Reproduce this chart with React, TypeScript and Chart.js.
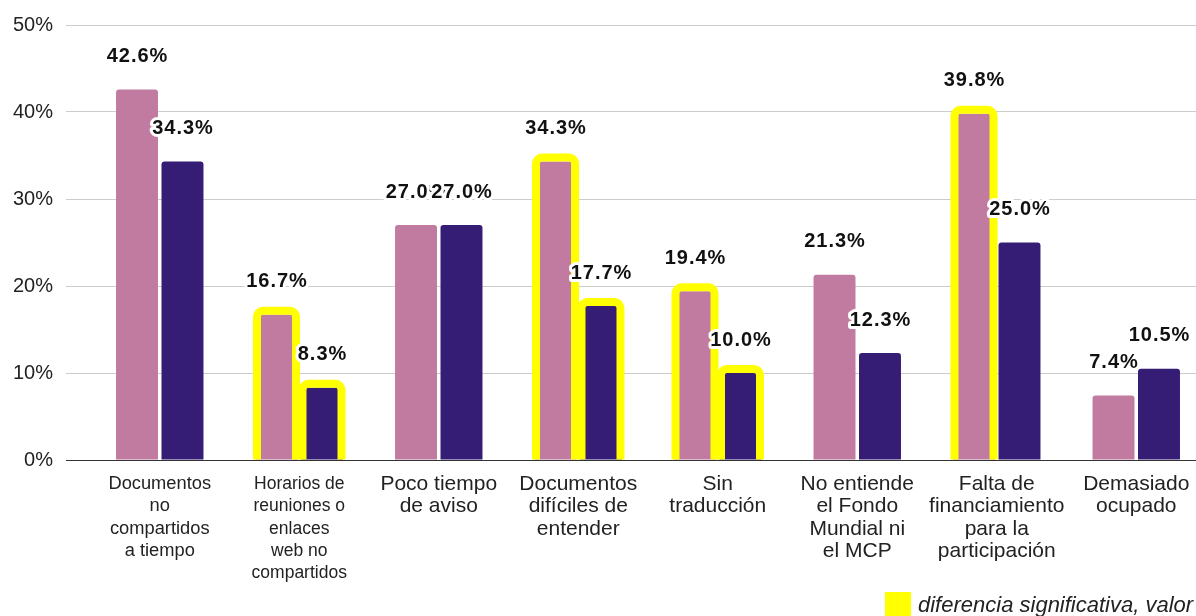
import { useEffect, useRef } from 'react';
import { Chart, registerables } from 'chart.js';

Chart.register(...registerables);

const categories: string[][] = [
  ['Documentos', 'no', 'compartidos', 'a tiempo'],
  ['Horarios de', 'reuniones o', 'enlaces', 'web no', 'compartidos'],
  ['Poco tiempo', 'de aviso'],
  ['Documentos', 'difíciles de', 'entender'],
  ['Sin', 'traducción'],
  ['No entiende', 'el Fondo', 'Mundial ni', 'el MCP'],
  ['Falta de', 'financiamiento', 'para la', 'participación'],
  ['Demasiado', 'ocupado'],
];
const seriesNames = ['Serie 1', 'Serie 2'];
const seriesA = [42.6, 16.7, 27.0, 34.3, 19.4, 21.3, 39.8, 7.4];
const seriesB = [34.3, 8.3, 27.0, 17.7, 10.0, 12.3, 25.0, 10.5];
const highlightA = [false, true, false, true, true, false, true, false];
const highlightB = [false, true, false, true, true, false, false, false];
const yTicks = [0, 10, 20, 30, 40, 50];
const legendText = 'diferencia significativa, valor p < 0.05';

const FONT = '"Liberation Sans", Arial, sans-serif';
const PINK = '#c27ba0';
const PURPLE = '#351c75';
const YELLOW = '#ffff00';

const overlayPlugin = {
  id: 'overlay',
  afterDatasetsDraw(chart: any) {
    const ctx = chart.ctx as CanvasRenderingContext2D;
    const flags = [highlightA, highlightB];
    // highlight outlines
    chart.data.datasets.forEach((_ds: any, di: number) => {
      const meta = chart.getDatasetMeta(di);
      meta.data.forEach((bar: any, i: number) => {
        if (!flags[di][i]) return;
        const { x, y, base } = bar.getProps(['x', 'y', 'base'], true);
        const inner = 15.5;
        const lw = 8;
        ctx.save();
        ctx.beginPath();
        ctx.rect(0, 0, chart.width, base);
        ctx.clip();
        ctx.strokeStyle = YELLOW;
        ctx.lineWidth = lw;
        ctx.lineJoin = 'round';
        ctx.beginPath();
        (ctx as any).roundRect(x - inner - lw / 2, y - lw / 2, 2 * (inner + lw / 2), base - y + lw * 2, 6);
        ctx.stroke();
        ctx.restore();
      });
    });
    // value labels
    ctx.save();
    ctx.font = `bold 20px ${FONT}`;
    (ctx as any).letterSpacing = '1px';
    ctx.textAlign = 'center';
    ctx.textBaseline = 'middle';
    ctx.lineJoin = 'round';
    ctx.lineWidth = 6;
    ctx.strokeStyle = '#ffffff';
    ctx.fillStyle = '#111111';
    chart.data.datasets.forEach((ds: any, di: number) => {
      const meta = chart.getDatasetMeta(di);
      meta.data.forEach((bar: any, i: number) => {
        const { x, y } = bar.getProps(['x', 'y'], true);
        const txt = Number(ds.data[i]).toFixed(1) + '%';
        ctx.strokeText(txt, x + 0.5, y - 33);
        ctx.fillText(txt, x + 0.5, y - 33);
      });
    });
    ctx.restore();
  },
  afterDraw(chart: any) {
    const ctx = chart.ctx as CanvasRenderingContext2D;
    const area = chart.chartArea;
    const bx = area.right - 321;
    const by = area.bottom + 132;
    ctx.save();
    ctx.fillStyle = YELLOW;
    ctx.fillRect(bx, by, 26, 26);
    ctx.font = `italic 22px ${FONT}`;
    ctx.fillStyle = '#222222';
    ctx.textAlign = 'left';
    ctx.textBaseline = 'alphabetic';
    ctx.fillText(legendText, bx + 33, by + 20);
    ctx.restore();
  },
};

export default function App() {
  const canvasRef = useRef<HTMLCanvasElement | null>(null);

  useEffect(() => {
    if (!canvasRef.current) return;
    const gridColor = (c: any) => (c.tick && c.tick.value === 0 ? '#333333' : '#cccccc');
    const chart = new Chart(canvasRef.current, {
      type: 'bar',
      data: {
        labels: categories,
        datasets: [
          {
            label: seriesNames[0],
            data: seriesA,
            backgroundColor: PINK,
            borderRadius: { topLeft: 3, topRight: 3, bottomLeft: 0, bottomRight: 0 },
            borderSkipped: false,
            categoryPercentage: 0.652,
            barPercentage: 0.923,
          },
          {
            label: seriesNames[1],
            data: seriesB,
            backgroundColor: PURPLE,
            borderRadius: { topLeft: 3, topRight: 3, bottomLeft: 0, bottomRight: 0 },
            borderSkipped: false,
            categoryPercentage: 0.652,
            barPercentage: 0.923,
          },
        ],
      },
      options: {
        responsive: false,
        animation: false,
        devicePixelRatio: 1,
        layout: { padding: { left: 0, right: 24, top: 25, bottom: 0 } },
        plugins: {
          legend: { display: false },
          tooltip: { enabled: false },
        },
        scales: {
          x: {
            grid: { display: false },
            border: { display: false },
            ticks: {
              color: '#222222',
              font: (c: any) => ({
                size: c.index === 0 ? 18.3 : c.index === 1 ? 17.5 : 21,
                family: FONT,
                lineHeight: '22.3px',
              }),
              padding: 5,
              maxRotation: 0,
              minRotation: 0,
              autoSkip: false,
            },
            afterFit: (s: any) => {
              s.height = 156;
            },
          },
          y: {
            min: 0,
            max: 50,
            afterBuildTicks: (s: any) => {
              s.ticks = yTicks.map((v) => ({ value: v }));
            },
            ticks: {
              callback: (v: any) => v + '%',
              padding: 13,
              color: '#222222',
              font: { size: 20, family: FONT },
            },
            grid: {
              color: gridColor,
              tickColor: gridColor,
              tickLength: 24,
              drawTicks: true,
              lineWidth: 1,
            },
            border: { display: false },
            afterFit: (s: any) => {
              s.width = 90;
            },
          },
        },
      },
      plugins: [overlayPlugin],
    } as any);
    return () => chart.destroy();
  }, []);

  return (
    <div
      style={{
        position: 'absolute',
        left: 0,
        top: 0,
        width: 1196,
        height: 616,
        overflow: 'hidden',
        background: '#ffffff',
      }}
    >
      <canvas ref={canvasRef} width={1230} height={616} style={{ display: 'block' }} />
    </div>
  );
}
